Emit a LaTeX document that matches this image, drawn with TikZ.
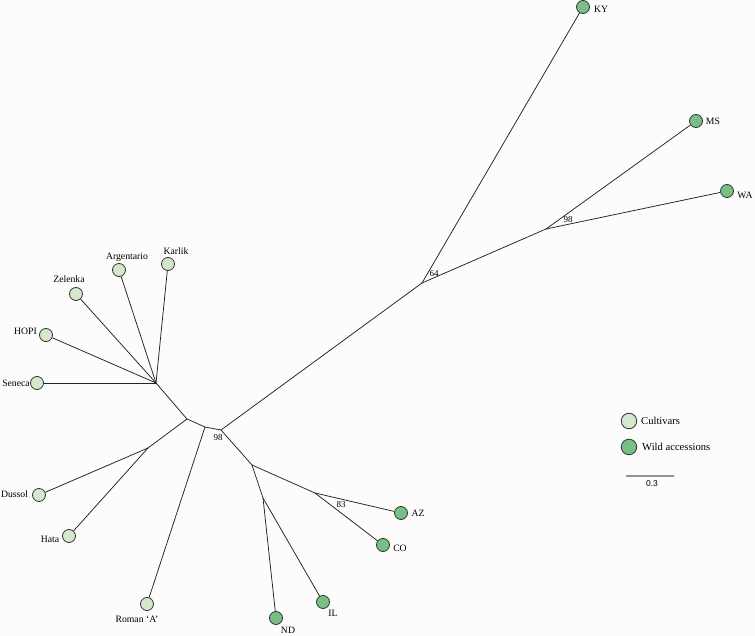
\documentclass[tikz,border=0pt]{standalone}
\usepackage{fontspec}
\setmainfont{Liberation Serif}
\newfontfamily\scalefont{Liberation Sans}
\definecolor{bgc}{HTML}{FCFCFC}
\definecolor{cultfill}{HTML}{D5E8CC}
\definecolor{wildfill}{HTML}{78BF85}
\definecolor{edgec}{HTML}{333333}
\definecolor{linec}{HTML}{222222}
\tikzset{
  cult/.style={circle,draw=edgec,fill=cultfill,line width=0.8pt,minimum size=13pt,inner sep=0pt},
  wild/.style={circle,draw=edgec,fill=wildfill,line width=0.8pt,minimum size=13pt,inner sep=0pt},
  legc/.style={circle,draw=edgec,line width=0.8pt,minimum size=15.5pt,inner sep=0pt},
  lab/.style={inner sep=0pt,text height=6.8pt,text depth=0pt,font=\fontsize{9.7}{11}\selectfont},
  leglab/.style={inner sep=0pt,anchor=west,text height=7.4pt,text depth=0pt,font=\fontsize{10.6}{12}\selectfont},
  boot/.style={inner sep=0pt,text height=6.5pt,text depth=0pt,font=\fontsize{9}{10}\selectfont},
  branch/.style={draw=linec,line width=0.75pt}
}
\begin{document}
\begin{tikzpicture}[x=1pt,y=-1pt]
\useasboundingbox[fill=bgc] (0,0) rectangle (755,636);
% internal nodes
\coordinate (c1) at (156,383);
\coordinate (c2) at (187,419);
\coordinate (c3) at (205,427);
\coordinate (root) at (221,430);
\coordinate (c4) at (148,448);
\coordinate (n64) at (422,283);
\coordinate (n98) at (546,229);
\coordinate (w1) at (252,465);
\coordinate (w2) at (315,493);
\coordinate (w3) at (263,498);
% leaves
\node[cult] (karlik) at (168,264) {};
\node[cult] (argentario) at (119,270) {};
\node[cult] (zelenka) at (76,294) {};
\node[cult] (hopi) at (46,335) {};
\node[cult] (seneca) at (37,383) {};
\node[cult] (dussol) at (39,495) {};
\node[cult] (hata) at (69,536) {};
\node[cult] (roman) at (147,604) {};
\node[wild] (nd) at (276,618) {};
\node[wild] (il) at (323,602) {};
\node[wild] (co) at (383,545) {};
\node[wild] (az) at (401,513) {};
\node[wild] (wa) at (727,191) {};
\node[wild] (ms) at (696,121) {};
\node[wild] (ky) at (583,7) {};
% branches
\draw[branch] (c1) -- (karlik);
\draw[branch] (c1) -- (argentario);
\draw[branch] (c1) -- (zelenka);
\draw[branch] (c1) -- (hopi);
\draw[branch] (c1) -- (seneca);
\draw[branch] (c1) -- (c2);
\draw[branch] (c2) -- (c3);
\draw[branch] (c3) -- (root);
\draw[branch] (c2) -- (c4);
\draw[branch] (c4) -- (dussol);
\draw[branch] (c4) -- (hata);
\draw[branch] (c3) -- (roman);
\draw[branch] (root) -- (n64);
\draw[branch] (n64) -- (ky);
\draw[branch] (n64) -- (n98);
\draw[branch] (n98) -- (ms);
\draw[branch] (n98) -- (wa);
\draw[branch] (root) -- (w1);
\draw[branch] (w1) -- (w2);
\draw[branch] (w2) -- (az);
\draw[branch] (w2) -- (co);
\draw[branch] (w1) -- (w3);
\draw[branch] (w3) -- (nd);
\draw[branch] (w3) -- (il);
% leaf labels
\node[lab] (lkarlik) at (176,251) {Karlik};
\node[lab] (largentario) at (127,256) {Argentario};
\node[lab] (lzelenka) at (69,279) {Zelenka};
\node[lab] (lhopi) at (25.5,331) {HOPI};
\node[lab] (lseneca) at (16,383) {Seneca};
\node[lab] (ldussol) at (14.5,494) {Dussol};
\node[lab] (lhata) at (50,539) {Hata};
\node[lab] (lroman) at (137,619) {Roman ‘A’};
\node[lab] (lnd) at (288,630) {ND};
\node[lab] (lil) at (333,613) {IL};
\node[lab] (lco) at (400,548) {CO};
\node[lab] (laz) at (418,513) {AZ};
\node[lab] (lky) at (601,9) {KY};
\node[lab] (lms) at (713,121) {MS};
\node[lab] (lwa) at (745,195) {WA};
% bootstrap values
\node[boot] (b98a) at (218,437) {98};
\node[boot] (b83) at (341,504) {83};
\node[boot] (b64) at (434,273) {64};
\node[boot] (b98b) at (568,219) {98};
% legend
\node[legc,fill=cultfill] (legcult) at (629,421) {};
\node[leglab] (legcultlab) at (641,421) {Cultivars};
\node[legc,fill=wildfill] (legwild) at (629,447) {};
\node[leglab] (legwildlab) at (642,447) {Wild accessions};
\coordinate (sb1) at (626,476);
\coordinate (sb2) at (674,476);
\draw[draw=gray!85,line width=1.3pt] (sb1) -- (sb2);
\node[inner sep=0pt,font=\scalefont\fontsize{8.5}{10}\selectfont] (sblab) at (652,484) {0.3};
\end{tikzpicture}
\end{document}
